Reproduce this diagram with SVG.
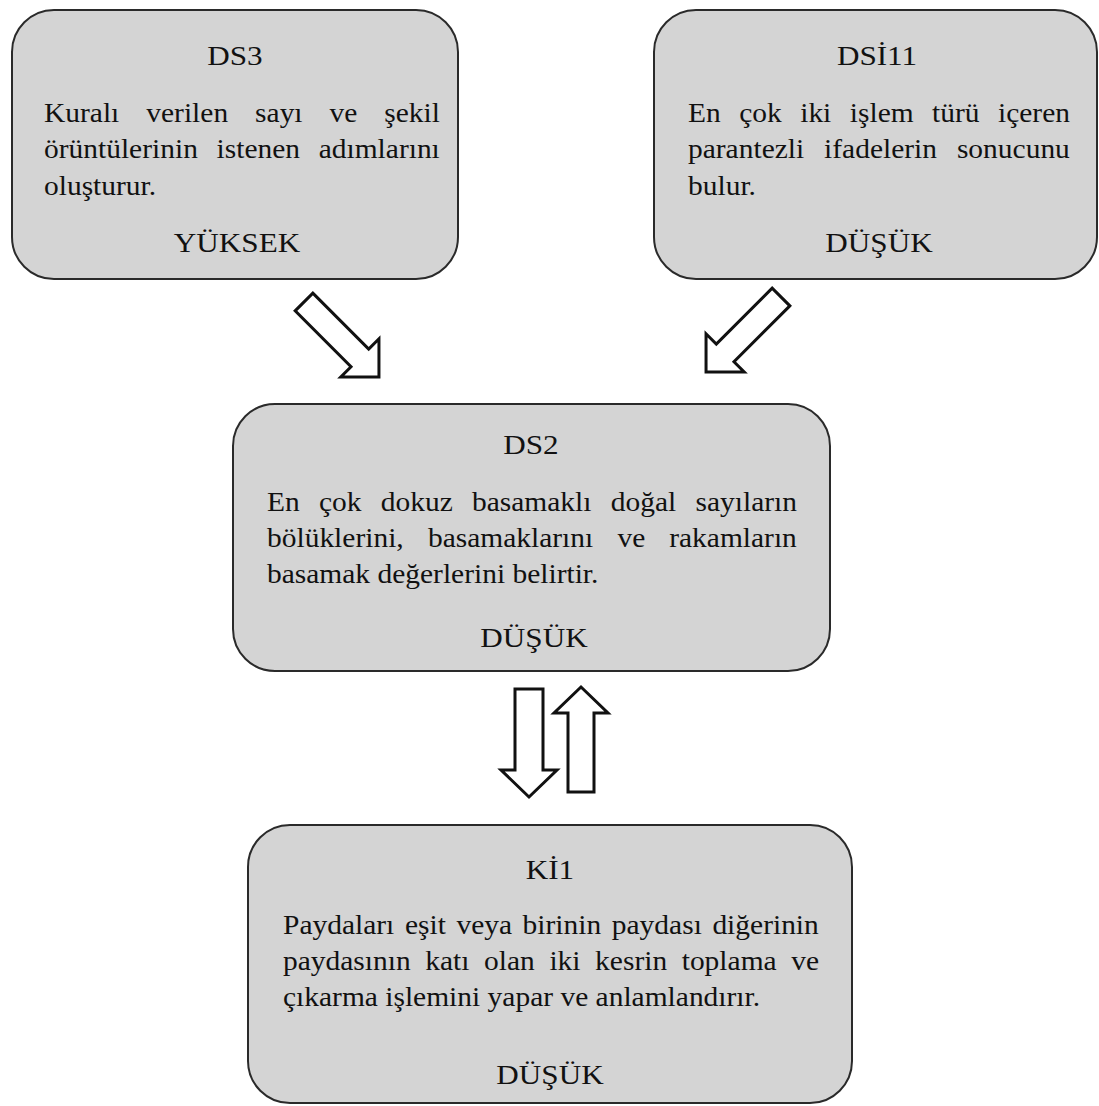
<svg xmlns="http://www.w3.org/2000/svg" xmlns:xlink="http://www.w3.org/1999/xlink" width="1099" height="1106" viewBox="0 0 1099 1106">
  <style>
    .box { fill: #d4d4d4; stroke: #2a2a2a; stroke-width: 2; }
    .t { font-family: "Liberation Serif", "Times New Roman", serif; fill: #111111; }
    .title { font-size: 28px; text-anchor: middle; }
    .body { font-size: 26.5px; }
    .arrow { fill: #ffffff; stroke: #111111; stroke-width: 3; stroke-linejoin: miter; }
  </style>
  <defs>
    <!-- block arrow pointing along +x, tail centred on the origin -->
    <polygon id="block-arrow" points="0,-12.5 79,-12.5 79,-27 106,0 79,27 79,12.5 0,12.5"/>
  </defs>
  <rect width="1099" height="1106" fill="#ffffff"/>

  <g id="node-ds3">
    <rect class="box" x="12" y="10" width="446" height="269" rx="42" ry="42"/>
    <g class="t" transform="scale(1.113 1)">
      <text class="title" x="211.14" y="65">DS3</text>
      <text class="body" y="122"><tspan x="39.53">Kuralı </tspan><tspan x="131.45">verilen </tspan><tspan x="229.2">sayı </tspan><tspan x="296.05">ve </tspan><tspan x="345.19">şekil</tspan></text>
      <text class="body" y="158"><tspan x="39.53">örüntülerinin </tspan><tspan x="194.61">istenen </tspan><tspan x="286.34">adımlarını</tspan></text>
      <text class="body" x="39.53" y="195">oluşturur.</text>
      <text class="title" x="212.94" y="252">YÜKSEK</text>
    </g>
  </g>

  <g id="node-dsi11">
    <rect class="box" x="654" y="10" width="443" height="269" rx="42" ry="42"/>
    <g class="t" transform="scale(1.113 1)">
      <text class="title" x="787.96" y="65">DSİ11</text>
      <text class="body" y="122"><tspan x="618.15">En </tspan><tspan x="664.15">çok </tspan><tspan x="718.96">iki </tspan><tspan x="763.53">işlem </tspan><tspan x="837.47">türü </tspan><tspan x="896.68">içeren</tspan></text>
      <text class="body" y="158"><tspan x="618.15">parantezli </tspan><tspan x="740.43">ifadelerin </tspan><tspan x="859.75">sonucunu</tspan></text>
      <text class="body" x="618.15" y="195">bulur.</text>
      <text class="title" x="789.76" y="252">DÜŞÜK</text>
    </g>
  </g>

  <g id="node-ds2">
    <rect class="box" x="233" y="404" width="597" height="267" rx="42" ry="42"/>
    <g class="t" transform="scale(1.113 1)">
      <text class="title" x="477.09" y="454">DS2</text>
      <text class="body" y="511"><tspan x="239.89">En </tspan><tspan x="286.61">çok </tspan><tspan x="342.05">dokuz </tspan><tspan x="424.08">basamaklı </tspan><tspan x="548.79">doğal </tspan><tspan x="624.89">sayıların</tspan></text>
      <text class="body" y="547"><tspan x="239.89">bölüklerini, </tspan><tspan x="384.46">basamaklarını </tspan><tspan x="554.72">ve </tspan><tspan x="601.26">rakamların</tspan></text>
      <text class="body" x="239.89" y="583">basamak değerlerini belirtir.</text>
      <text class="title" x="479.78" y="647">DÜŞÜK</text>
    </g>
  </g>

  <g id="node-ki1">
    <rect class="box" x="248" y="825" width="604" height="278" rx="42" ry="42"/>
    <g class="t" transform="scale(1.113 1)">
      <text class="title" x="494.16" y="879">Kİ1</text>
      <text class="body" y="934"><tspan x="254.27">Paydaları </tspan><tspan x="363.79">eşit </tspan><tspan x="410.06">veya </tspan><tspan x="469.54">birinin </tspan><tspan x="549.69">paydası </tspan><tspan x="640.07">diğerinin</tspan></text>
      <text class="body" y="970"><tspan x="254.27">paydasının </tspan><tspan x="382.12">katı </tspan><tspan x="434.95">olan </tspan><tspan x="493.62">iki </tspan><tspan x="534.68">kesrin </tspan><tspan x="612.49">toplama </tspan><tspan x="710.87">ve</tspan></text>
      <text class="body" x="254.27" y="1006">çıkarma işlemini yapar ve anlamlandırır.</text>
      <text class="title" x="494.16" y="1084">DÜŞÜK</text>
    </g>
  </g>

  <g id="connectors">
    <!-- DS3 to DS2 -->
    <use class="arrow" href="#block-arrow" xlink:href="#block-arrow" transform="translate(304 302) rotate(45)"/>
    <!-- DSİ11 to DS2 -->
    <use class="arrow" href="#block-arrow" xlink:href="#block-arrow" transform="translate(781 297) rotate(135)"/>
    <!-- DS2 to Kİ1 -->
    <polygon class="arrow" points="515,689 543,689 543,770 557,770 529,797 501,770 515,770"/>
    <!-- Kİ1 to DS2 -->
    <polygon class="arrow" points="568,792 594,792 594,713 608,713 581,687 554,713 568,713"/>
  </g>
</svg>
